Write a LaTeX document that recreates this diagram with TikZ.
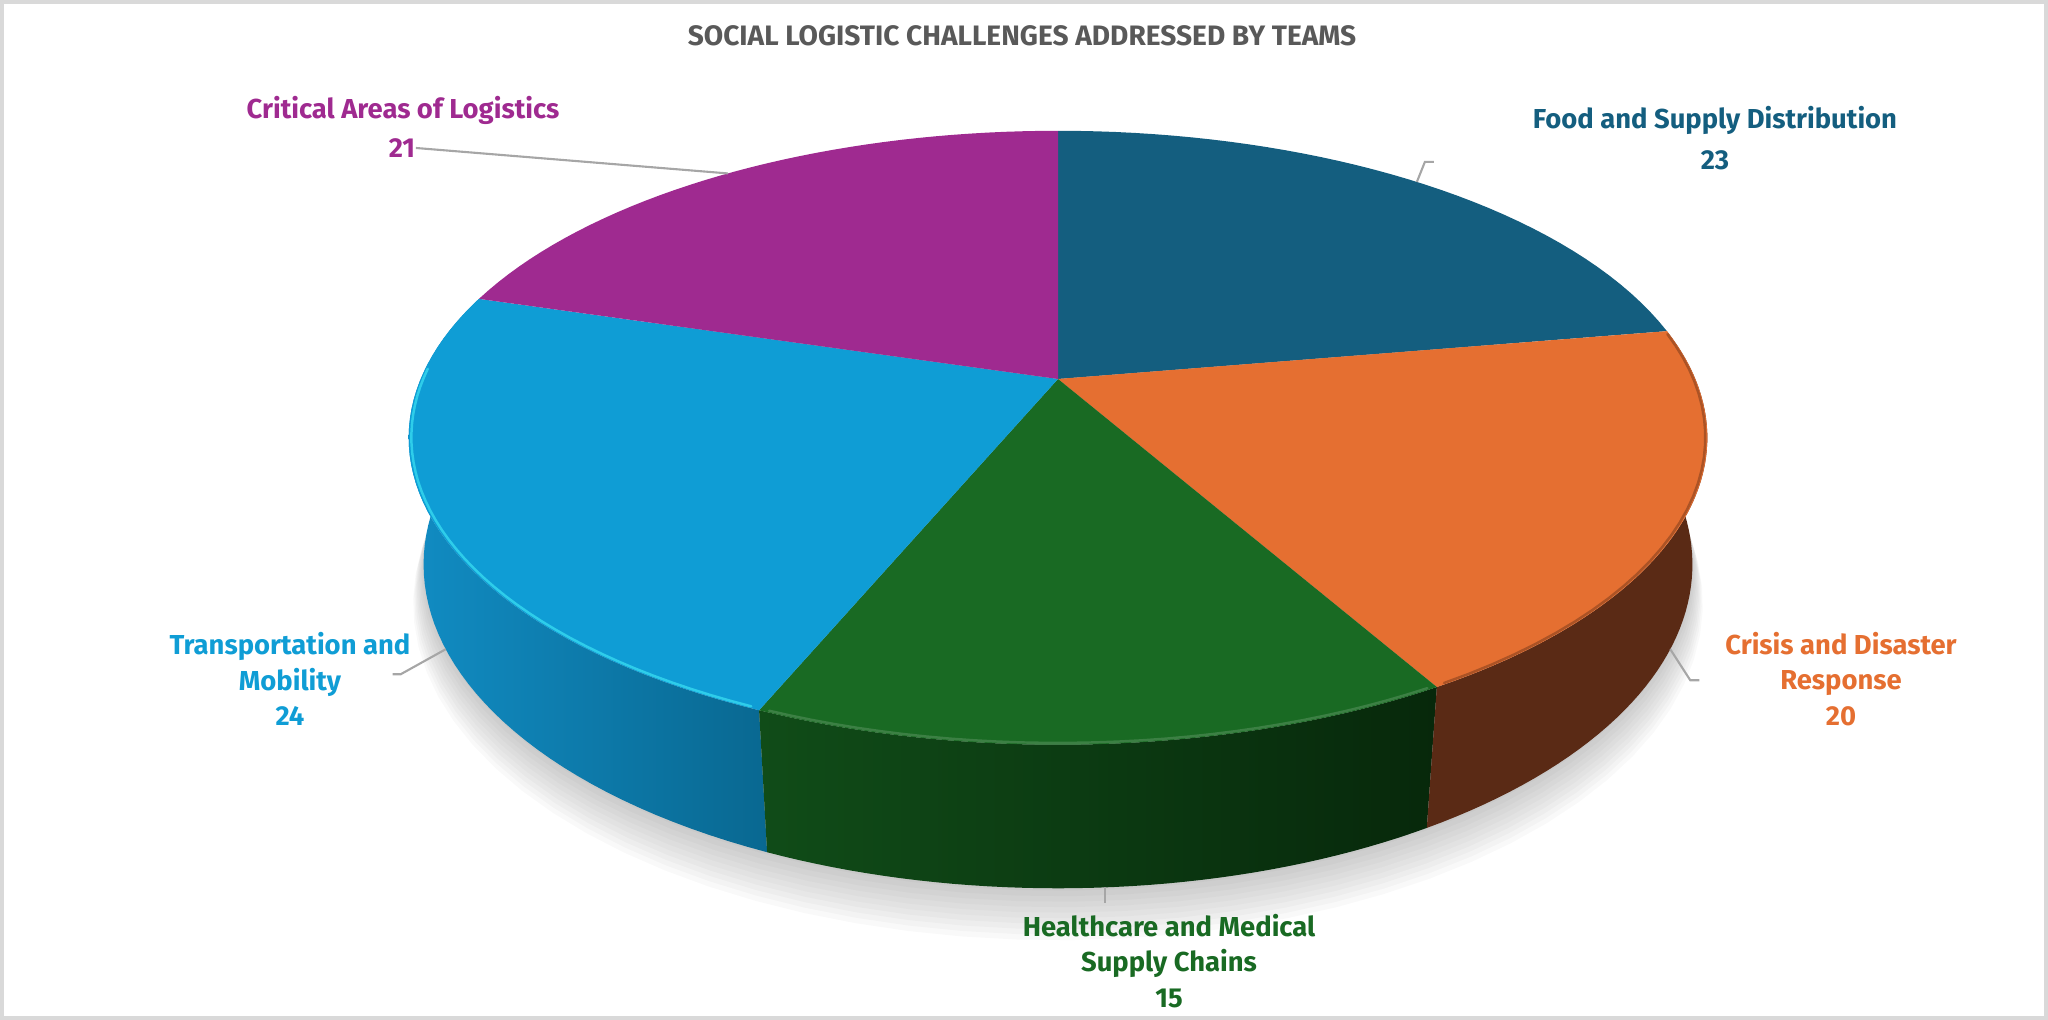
\documentclass[tikz,border=0pt]{standalone}
\usepackage{fontspec}
\setmainfont{Fira Sans}
\definecolor{foodc}{RGB}{20,94,127}
\definecolor{crisisc}{RGB}{229,111,49}
\definecolor{crisisside}{RGB}{90,42,21}
\definecolor{healthc}{RGB}{25,106,35}
\definecolor{healthsidel}{RGB}{16,76,24}
\definecolor{healthsider}{RGB}{7,40,11}
\definecolor{transc}{RGB}{15,157,213}
\definecolor{transsidel}{RGB}{17,140,195}
\definecolor{transsider}{RGB}{9,104,145}
\definecolor{critc}{RGB}{159,42,144}
\definecolor{titlec}{RGB}{89,89,89}
\definecolor{leaderc}{RGB}{166,166,166}
\definecolor{framec}{RGB}{217,217,217}
\begin{document}
\begin{tikzpicture}[
  declare function={
    pz(\ang,\lev,\rf)=4.627+0.886*\rf*sin(\ang)-0.464*\lev;
    px(\ang,\lev,\rf)=10.58+29.49*\rf*cos(\ang)/pz(\ang,\lev,\rf);
    py(\ang,\lev,\rf)=6.41+29.49*(0.886*\lev+0.464*\rf*sin(\ang))/pz(\ang,\lev,\rf);
  },
  lbl/.style={font=\bfseries\fontsize{7.8}{10.1}\selectfont, align=center, inner sep=0pt},
  leader/.style={draw=leaderc, line width=0.6pt},
  rimlight/.style={line width=0.7pt, line cap=round},
]
\useasboundingbox (0,0) rectangle (20.48,10.20);
\draw[framec, line width=1pt] (0.02,0.02) rectangle (20.46,10.18);
\node[font=\bfseries\fontsize{8}{10}\selectfont, text=titlec] (title) at (10.22,9.84) {SOCIAL LOGISTIC CHALLENGES ADDRESSED BY TEAMS};
\coordinate (apex) at (10.58,6.41);
\foreach \s in {0,...,9}
  \fill[black, opacity=0.022] plot[domain=0:360, samples=90, variable=\t] ({px(\t,-0.23-0.007*\s,1+0.0025*\s)},{py(\t,-0.23-0.007*\s,1+0.0025*\s)}) -- cycle;
\shade[left color=transsidel, right color=transsider] plot[domain=163.399:247.282, samples=50, variable=\t] ({px(\t,0,1)},{py(\t,0,1)}) -- plot[domain=247.282:163.399, samples=50, variable=\t] ({px(\t,-0.226,1)},{py(\t,-0.226,1)}) -- cycle;
\shade[left color=healthsidel, right color=healthsider] plot[domain=247.282:299.709, samples=40, variable=\t] ({px(\t,0,1)},{py(\t,0,1)}) -- plot[domain=299.709:247.282, samples=40, variable=\t] ({px(\t,-0.226,1)},{py(\t,-0.226,1)}) -- cycle;
\fill[crisisside] plot[domain=299.709:369.612, samples=50, variable=\t] ({px(\t,0,1)},{py(\t,0,1)}) -- plot[domain=369.612:299.709, samples=50, variable=\t] ({px(\t,-0.226,1)},{py(\t,-0.226,1)}) -- cycle;
\fill[foodc] (apex) -- plot[domain=9.612:90, samples=40, variable=\t] ({px(\t,0,1)},{py(\t,0,1)}) -- cycle;
\fill[crisisc] (apex) -- plot[domain=-60.291:9.612, samples=40, variable=\t] ({px(\t,0,1)},{py(\t,0,1)}) -- cycle;
\fill[healthc] (apex) -- plot[domain=-112.718:-60.291, samples=40, variable=\t] ({px(\t,0,1)},{py(\t,0,1)}) -- cycle;
\fill[transc] (apex) -- plot[domain=163.399:247.282, samples=50, variable=\t] ({px(\t,0,1)},{py(\t,0,1)}) -- cycle;
\fill[critc] (apex) -- plot[domain=90:163.399, samples=40, variable=\t] ({px(\t,0,1)},{py(\t,0,1)}) -- cycle;
\draw[rimlight, draw=transc!60!cyan!85!white] plot[domain=178:246.5, samples=40, variable=\t] ({px(\t,0,0.996)},{py(\t,0,0.996)});
\draw[rimlight, draw=healthc!85!white] plot[domain=248:299, samples=30, variable=\t] ({px(\t,0,0.996)},{py(\t,0,0.996)});
\draw[rimlight, draw=crisisc!75!black] plot[domain=300.5:369, samples=30, variable=\t] ({px(\t,0,0.997)},{py(\t,0,0.997)});
\coordinate (critrim) at ({px(126.7,0,1)},{py(126.7,0,1)});
\coordinate (foodrim) at ({px(49.8,0,1)},{py(49.8,0,1)});
\coordinate (crisisrim) at ({px(-25.35,-0.226,1)},{py(-25.35,-0.226,1)});
\coordinate (healthrim) at ({px(273.5,-0.226,1)},{py(273.5,-0.226,1)});
\coordinate (transrim) at ({px(205.35,-0.226,1)},{py(205.35,-0.226,1)});
\node[lbl, text=critc] (critname) at (4.03,9.10) {Critical Areas of Logistics};
\node[lbl, text=critc] (critval) at (4.02,8.72) {21};
\node[lbl, text=foodc] (foodname) at (17.15,9.00) {Food and Supply Distribution};
\node[lbl, text=foodc] (foodval) at (17.15,8.60) {23};
\node[lbl, text=transc] (translbl) at (2.90,3.41) {Transportation and\\Mobility\\24};
\node[lbl, text=crisisc] (crisislbl) at (18.41,3.41) {Crisis and Disaster\\Response\\20};
\node[lbl, text=healthc] (healthlbl) at (11.69,0.59) {Healthcare and Medical\\Supply Chains\\15};
\draw[leader] (critval.east) -- (critrim);
\draw[leader] (foodrim) -- ++(0.08,0.2) -- ++(0.09,0);
\draw[leader] (crisisrim) -- ++(0.2,-0.31) -- ++(0.09,0);
\draw[leader] (transrim) -- ++(-0.45,-0.25) -- ++(-0.08,0);
\draw[leader] (healthrim) -- ++(0,-0.16);
\end{tikzpicture}
\end{document}
